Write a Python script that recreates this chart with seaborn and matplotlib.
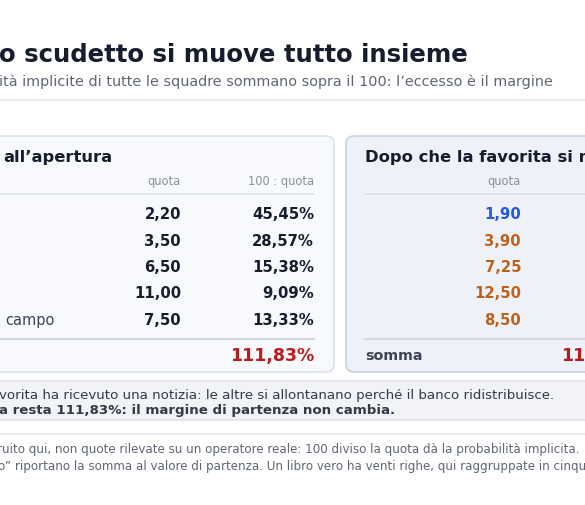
import matplotlib.pyplot as plt
import seaborn as sns
from matplotlib.patches import FancyBboxPatch

# odds: opening book and after the favourite moved
quote_apertura = [2.20, 3.50, 6.50, 11.00, 7.50]
quote_dopo = [1.90, 3.90, 7.25, 12.50, 8.50]
squadre = ["", "", "", "", "campo"]  # names cut off at the left edge
variazione = ["giu", "su", "su", "su", "su"]

DARK = "#161d2d"
GRAY = "#5f6672"
LIGHT = "#8b9099"
RED = "#b91c1c"
BLUE = "#2456e0"
ORANGE = "#c0611a"


def fmt(v, suffix=""):
    return f"{v:.2f}".replace(".", ",") + suffix


def main():
    sns.set_theme(style="white")
    plt.rcParams["font.family"] = ["DejaVu Sans"]

    fig = plt.figure(figsize=(5.85, 5.05), dpi=100)
    ax = fig.add_axes([0, 0, 1, 1])
    ax.set_xlim(0, 585)
    ax.set_ylim(505, 0)
    ax.axis("off")

    ax.text(-1, 62, "o scudetto si muove tutto insieme", fontsize=17.6, fontweight="bold", color=DARK)
    ax.text(-1, 86, "ità implicite di tutte le squadre sommano sopra il 100: l\u2019eccesso è il margine",
            fontsize=10.4, color=GRAY)
    ax.plot([0, 585], [100, 100], color="#e5e7eb", lw=1.2)

    # panels
    ax.add_patch(FancyBboxPatch((-20, 136), 354, 236, boxstyle="round,pad=0,rounding_size=8",
                                fc="#f7f9fc", ec="#dde3ea", lw=1.2))
    ax.add_patch(FancyBboxPatch((346, 136), 260, 236, boxstyle="round,pad=0,rounding_size=8",
                                fc="#eef2f8", ec="#c9d3e0", lw=1.2))

    ax.text(3, 162, "all\u2019apertura", fontsize=11.8, fontweight="bold", color=DARK)
    ax.text(365, 162, "Dopo che la favorita si muove", fontsize=11.8, fontweight="bold", color=DARK)

    for qx, px, x0, x1 in [(181, 314, 0, 314), (521, 654, 365, 600)]:
        ax.text(qx, 185, "quota", fontsize=8.3, color=LIGHT, ha="right")
        ax.text(px, 185, "100 : quota", fontsize=8.3, color=LIGHT, ha="right")
        ax.plot([x0, x1], [194, 194], color="#dbe2ea", lw=1.2)
        ax.plot([x0, x1], [339, 339], color="#cfd8e3", lw=1.5)

    row_y = [219, 245.5, 272, 298.5, 325]
    for y, name, qa, qd, var in zip(row_y, squadre, quote_apertura, quote_dopo, variazione):
        ax.text(5, y, name, fontsize=10.5, color="#3d4555")
        ax.text(181, y, fmt(qa), fontsize=10.7, fontweight="bold", color=DARK, ha="right")
        ax.text(314, y, fmt(100 / qa, "%"), fontsize=10.7, fontweight="bold", color=DARK, ha="right")
        col = BLUE if var == "giu" else ORANGE
        ax.text(521, y, fmt(qd), fontsize=10.7, fontweight="bold", color=col, ha="right")
        ax.text(654, y, fmt(100 / qd, "%"), fontsize=10.7, fontweight="bold", color=DARK, ha="right")

    tot_a = sum(100 / q for q in quote_apertura)
    tot_d = sum(100 / q for q in quote_dopo)
    ax.text(314, 361, fmt(tot_a, "%"), fontsize=12.5, fontweight="bold", color=RED, ha="right")
    ax.text(365, 360, "somma", fontsize=10.3, fontweight="bold", color="#3d4555")
    ax.text(561, 361, fmt(tot_d, "%"), fontsize=12.5, fontweight="bold", color=RED)

    # note box
    ax.add_patch(FancyBboxPatch((-20, 381), 630, 39, boxstyle="round,pad=0,rounding_size=4",
                                fc="#f1f3f6", ec="#dfe3e8", lw=1.2))
    ax.text(-1, 399, "vorita ha ricevuto una notizia: le altre si allontanano perché il banco ridistribuisce.",
            fontsize=9.6, color="#333a46")
    ax.text(-1, 414, "a resta 111,83%: il margine di partenza non cambia.",
            fontsize=9.6, fontweight="bold", color="#333a46")

    ax.plot([0, 585], [434, 434], color="#e5e7eb", lw=1.2)
    ax.text(-3, 453, "ruito qui, non quote rilevate su un operatore reale: 100 diviso la quota dà la probabilità implicita.",
            fontsize=8.6, color=GRAY)
    ax.text(-2, 470, "o\u201d riportano la somma al valore di partenza. Un libro vero ha venti righe, qui raggruppate in cinque.",
            fontsize=8.6, color=GRAY)

    fig.savefig("out.png", dpi=100)
    plt.close(fig)


if __name__ == "__main__":
    main()
